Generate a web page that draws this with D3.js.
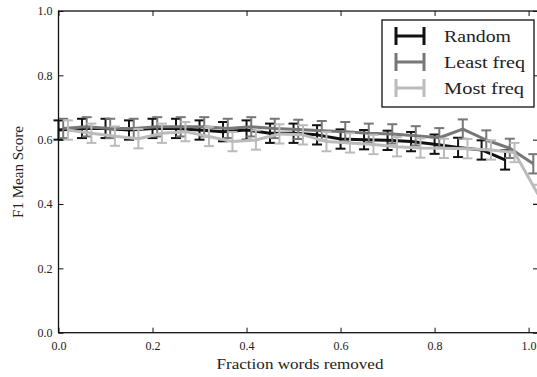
<!DOCTYPE html>
<html><head><meta charset="utf-8">
<script src="https://cdn.jsdelivr.net/npm/d3@7"></script>
<style>body{margin:0;background:#fff}svg{display:block}text{font-family:"Liberation Serif","DejaVu Serif",serif;fill:#222}</style>
</head><body><svg id="c" width="537" height="377"></svg>
<script>
const xRandom = [0,0.05,0.1,0.15,0.2,0.25,0.3,0.35,0.4,0.45,0.5,0.55,0.6,0.65,0.7,0.75,0.8,0.85,0.9,0.95];
const yRandom = [0.63,0.635,0.635,0.63,0.635,0.635,0.63,0.625,0.63,0.62,0.62,0.615,0.602,0.60,0.598,0.594,0.586,0.576,0.568,0.537];
const eRandom = [0.03,0.03,0.03,0.03,0.03,0.03,0.03,0.03,0.03,0.03,0.03,0.03,0.03,0.03,0.03,0.03,0.03,0.03,0.03,0.03];
const xLeast = [0.01,0.06,0.11,0.16,0.21,0.26,0.31,0.36,0.41,0.46,0.51,0.56,0.61,0.66,0.71,0.76,0.81,0.86,0.91,0.96,1.01];
const yLeast = [0.635,0.64,0.635,0.635,0.64,0.64,0.64,0.635,0.64,0.635,0.632,0.628,0.625,0.62,0.618,0.612,0.606,0.633,0.599,0.573,0.525];
const eLeast = [0.03,0.03,0.03,0.03,0.03,0.03,0.03,0.03,0.03,0.03,0.03,0.03,0.03,0.03,0.03,0.03,0.03,0.03,0.03,0.03,0.03];
const xMost = [0.02,0.07,0.12,0.17,0.22,0.27,0.32,0.37,0.42,0.47,0.52,0.57,0.62,0.67,0.72,0.77,0.82,0.87,0.92,0.97,1.02];
const yMost = [0.63,0.62,0.611,0.603,0.62,0.625,0.61,0.594,0.599,0.618,0.615,0.594,0.59,0.585,0.578,0.574,0.573,0.572,0.568,0.56,0.43];
const eMost = [0.03,0.03,0.03,0.03,0.03,0.03,0.03,0.03,0.03,0.03,0.03,0.03,0.03,0.03,0.03,0.03,0.03,0.03,0.03,0.03,0.03];
const seriesNames = ["Random","Least freq","Most freq"];
const xTicks = [0,0.2,0.4,0.6,0.8,1.0];
const yTicks = [0,0.2,0.4,0.6,0.8,1.0];

const colors = ["#111111","#777777","#bbbbbb"];
const legendWidths = [67,81,80];
const series = [
  {name:seriesNames[0], xs:xRandom, ys:yRandom, es:eRandom, color:colors[0]},
  {name:seriesNames[1], xs:xLeast, ys:yLeast, es:eLeast, color:colors[1]},
  {name:seriesNames[2], xs:xMost, ys:yMost, es:eMost, color:colors[2]}
];

const svg = d3.select("#c");
const L=58.5, R=538, T=11, B=332.7;
const x = d3.scaleLinear().domain([0,1.02]).range([L,R]);
const y = d3.scaleLinear().domain([0,1]).range([B,T]);

const g = svg.append("g");
series.forEach(s=>{
  const pts = s.xs.map((v,i)=>({x:v,y:s.ys[i],e:s.es[i]}));
  g.append("path").datum(pts)
    .attr("fill","none").attr("stroke",s.color).attr("stroke-width",3).attr("stroke-linejoin","round")
    .attr("d",d3.line().x(d=>x(d.x)).y(d=>y(d.y)));
  const eb = g.append("g").attr("stroke",s.color).attr("stroke-width",2);
  pts.forEach(d=>{
    const cx=x(d.x), y1=y(d.y-d.e), y2=y(d.y+d.e);
    eb.append("line").attr("x1",cx).attr("x2",cx).attr("y1",y1).attr("y2",y2);
    eb.append("line").attr("x1",cx-5).attr("x2",cx+5).attr("y1",y1).attr("y2",y1);
    eb.append("line").attr("x1",cx-5).attr("x2",cx+5).attr("y1",y2).attr("y2",y2);
  });
});

// frame
svg.append("rect").attr("x",L).attr("y",T).attr("width",R-L).attr("height",B-T)
  .attr("fill","none").attr("stroke","#111").attr("stroke-width",1.3);

// axes with inward ticks
const ax = svg.append("g").attr("transform",`translate(0,${B})`)
  .call(d3.axisBottom(x).tickValues(xTicks).tickFormat(d3.format(".1f")).tickSizeInner(-5).tickSizeOuter(0).tickPadding(9));
const ay = svg.append("g").attr("transform",`translate(${L},0)`)
  .call(d3.axisLeft(y).tickValues(yTicks).tickFormat(d3.format(".1f")).tickSizeInner(-5).tickSizeOuter(0).tickPadding(6));
const axT = svg.append("g").attr("transform",`translate(0,${T})`)
  .call(d3.axisTop(x).tickValues(xTicks).tickFormat("").tickSizeInner(-5).tickSizeOuter(0));
const ayR = svg.append("g").attr("transform",`translate(${R},0)`)
  .call(d3.axisRight(y).tickValues(yTicks).tickFormat("").tickSizeInner(-5).tickSizeOuter(0));
[ax,ay,axT,ayR].forEach(a=>{a.select(".domain").remove(); a.selectAll(".tick line").attr("stroke","#111").attr("stroke-width",1);
  a.selectAll("text").style("font-family",'"Liberation Serif",serif').style("font-size","12px").attr("fill","#222");});

svg.append("text").attr("x",300).attr("y",369).attr("text-anchor","middle").style("font-size","14px")
  .attr("textLength",167).attr("lengthAdjust","spacingAndGlyphs").text("Fraction words removed");
svg.append("text").attr("transform",`translate(23,${172}) rotate(-90)`).attr("text-anchor","middle").style("font-size","14px")
  .attr("textLength",92).attr("lengthAdjust","spacingAndGlyphs").text("F1 Mean Score");

// legend
const lg = svg.append("g");
lg.append("rect").attr("x",382).attr("y",20).attr("width",152).attr("height",87).attr("fill","#fff").attr("stroke","#111").attr("stroke-width",1.3);
series.forEach((s,i)=>{
  const cy = 36 + i*26;
  const gg = lg.append("g").attr("stroke",s.color).attr("stroke-width",3);
  gg.append("line").attr("x1",396).attr("x2",424).attr("y1",cy).attr("y2",cy);
  gg.append("line").attr("x1",396).attr("x2",396).attr("y1",cy-9).attr("y2",cy+9);
  gg.append("line").attr("x1",424).attr("x2",424).attr("y1",cy-9).attr("y2",cy+9);
  lg.append("text").attr("x",444).attr("y",cy+5.5).style("font-size","17px")
    .attr("textLength",legendWidths[i]).attr("lengthAdjust","spacingAndGlyphs").text(s.name);
});
</script></body></html>
